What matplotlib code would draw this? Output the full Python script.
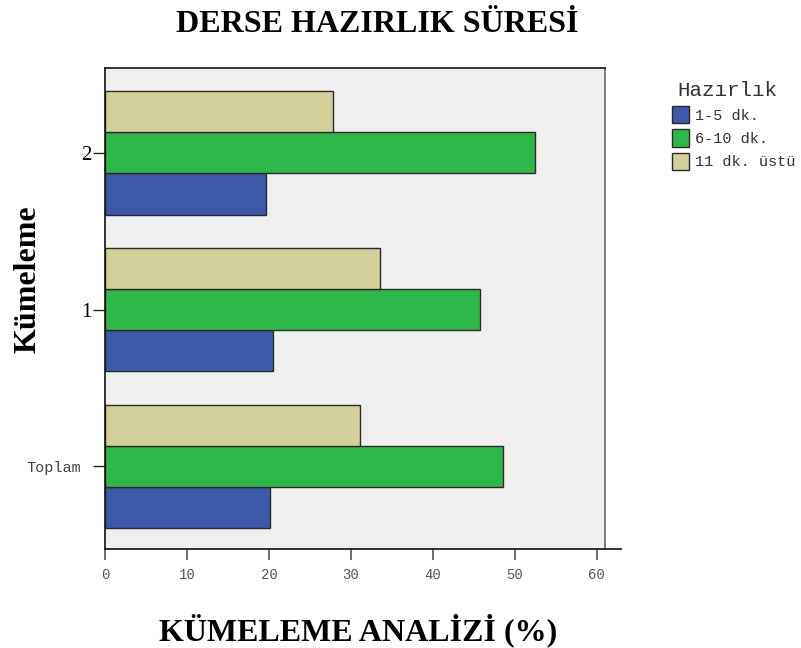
import matplotlib
matplotlib.use("Agg")
import matplotlib.pyplot as plt
import matplotlib.transforms as mtransforms
import numpy as np

categories = ["Toplam", "1", "2"]
series_names = ["1-5 dk.", "6-10 dk.", "11 dk. üstü"]
val_1_5 = [20.1, 20.5, 19.6]
val_6_10 = [48.6, 45.7, 52.4]
val_11 = [31.1, 33.5, 27.8]
x_ticks = [0, 10, 20, 30, 40, 50, 60]
colors = ["#3c58a8", "#2fb84a", "#d3cf9a"]

fig = plt.figure(figsize=(8.01, 6.48), dpi=100)
ax = fig.add_axes([105/801, 1-549/648, 500/801, 481/648])
ax.set_facecolor("#efefef")

y = np.arange(len(categories))
h = 0.262
series = [val_1_5, val_6_10, val_11]
handles = []
for i, (vals, c, name) in enumerate(zip(series, colors, series_names)):
    b = ax.barh(y + (i - 1) * h, vals, height=h, color=c, edgecolor="#2a2a2a",
                linewidth=1.0, label=name)
    handles.append(b)

ax.set_xlim(0, 61.0)
ax.set_ylim(-0.53, 2.543)
ax.set_xticks(x_ticks)
ax.set_xticklabels([str(t) for t in x_ticks], family="Liberation Mono", fontsize=10, color="#555555")
ax.set_yticks(y)
ax.set_yticklabels(categories)
ax.tick_params(axis="x", direction="out", length=8, width=1.2, color="#555555", pad=6)
ax.tick_params(axis="y", direction="out", length=9, width=1, color="#222222", pad=1)
for lbl in ax.get_yticklabels():
    if lbl.get_text() == "Toplam":
        lbl.set_family("Liberation Mono")
        lbl.set_fontsize(11)
        lbl.set_color("#444444")
        lbl.set_transform(lbl.get_transform() +
                          mtransforms.ScaledTranslation(-10/100, 0, fig.dpi_scale_trans))
    else:
        lbl.set_family("Liberation Serif")
        lbl.set_fontsize(15)

ax.spines["left"].set_color("#111111")
ax.spines["top"].set_color("#111111")
ax.spines["right"].set_color("#666666")
ax.spines["bottom"].set_color("#111111")
ax.spines["bottom"].set_bounds(0, 62.9)
for s in ax.spines.values():
    s.set_linewidth(1.2)

fig.text(377/801, 1-24/648, "DERSE HAZIRLIK SÜRESİ", ha="center", va="center",
         family="Liberation Serif", fontweight="bold", fontsize=23)
fig.text(28/801, 1-279/648, "Kümeleme", ha="center", va="center", rotation=90,
         family="Liberation Serif", fontweight="bold", fontsize=23)
fig.text(358/801, 1-630/648, "KÜMELEME ANALİZİ (%)", ha="center", va="center",
         family="Liberation Serif", fontweight="bold", fontsize=23)

fig.text(677/801, 1-90/648, "Hazırlık", ha="left", va="center",
         family="Liberation Mono", fontsize=15, color="#333333")
leg = fig.legend(handles=handles, labels=series_names, loc="upper left",
                 bbox_to_anchor=(672/801, 1-106/648), frameon=False,
                 prop={"family": "Liberation Mono", "size": 11},
                 handlelength=1.12, handleheight=1.35, handletextpad=0.38, labelspacing=0.41,
                 borderaxespad=0, borderpad=0)
for t in leg.get_texts():
    t.set_color("#333333")

fig.savefig("out.png", dpi=100)
